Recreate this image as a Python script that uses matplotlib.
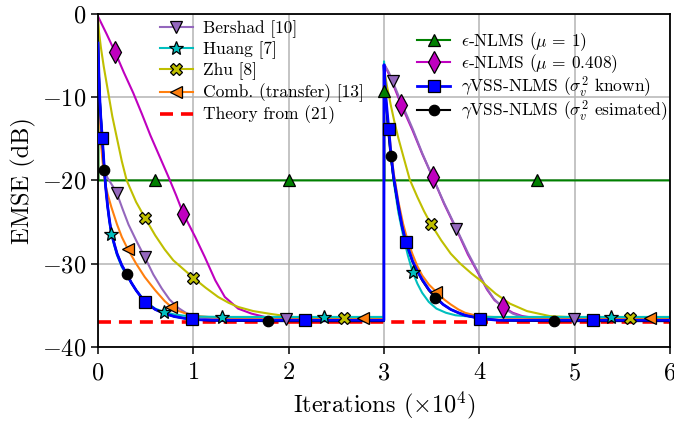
import numpy as np
import matplotlib
matplotlib.use('Agg')
import matplotlib.pyplot as plt
from matplotlib.lines import Line2D

plt.rcParams['font.family'] = 'serif'
plt.rcParams['font.serif'] = ['cmr10']
plt.rcParams['mathtext.fontset'] = 'cm'
plt.rcParams['axes.formatter.use_mathtext'] = True

# iterations in units of 1e4, EMSE in dB
x_bershad = [0, 0.02, 0.04, 0.066, 0.1, 0.15, 0.196, 0.26, 0.32, 0.4, 0.49, 0.58, 0.67, 0.75, 0.84, 0.92,
             1.0, 1.1, 1.25, 1.97, 2.999,
             3.0, 3.05, 3.09, 3.18, 3.3, 3.4, 3.51, 3.63, 3.76, 3.88, 4.0, 4.08, 4.15, 4.25, 4.35, 4.45,
             4.6, 4.99, 6.0]
y_bershad = [-3, -11, -16, -18.7, -19.7, -20.6, -21.5, -23.5, -25.3, -27.2, -29.2, -31.3, -33.0, -34.3, -35.3, -35.9,
             -36.25, -36.5, -36.65, -36.7, -36.7,
             -6.0, -7.0, -8.1, -10.6, -13.8, -16.7, -19.6, -22.7, -25.8, -28.7, -31.3, -33.0, -34.2, -35.3, -36.0, -36.4,
             -36.6, -36.7, -36.7]
mk_bershad = [6, 10, 19, 23, 29, 38]

x_huang = [0, 0.01, 0.02, 0.045, 0.07, 0.1, 0.136, 0.17, 0.2, 0.25, 0.3, 0.4, 0.5, 0.6, 0.69, 0.8, 0.9, 1.0,
           1.3, 2.37, 2.999,
           3.0, 3.02, 3.05, 3.1, 3.15, 3.2, 3.25, 3.3, 3.35, 3.4, 3.47, 3.55, 3.65, 3.75, 3.9, 4.1, 5.38, 6.0]
y_huang = [-3, -7.5, -10.5, -15, -19.2, -23.2, -26.4, -27.8, -29, -30.4, -31.4, -33.2, -34.6, -35.4, -35.8, -36.1,
           -36.25, -36.35, -36.4, -36.4, -36.4,
           -5.7, -10.5, -14.5, -20.0, -23.8, -26.6, -29.0, -31.0, -32.4, -33.5, -34.6, -35.4, -35.9, -36.2, -36.35,
           -36.4, -36.4, -36.4]
mk_huang = [6, 14, 18, 19, 28, 37]

x_zhu = [0, 0.01, 0.03, 0.06, 0.108, 0.15, 0.2, 0.25, 0.301, 0.4, 0.493, 0.6, 0.7, 0.79, 0.9, 1.0, 1.13, 1.26,
         1.37, 1.47, 1.63, 1.79, 2.03, 2.3, 2.58, 2.999,
         3.0, 3.03, 3.07, 3.11, 3.15, 3.2, 3.27, 3.35, 3.42, 3.49, 3.6, 3.7, 3.8, 3.92, 4.01, 4.17, 4.32, 4.5,
         4.74, 5.0, 5.58, 6.0]
y_zhu = [-0.5, -2.1, -4.0, -6.3, -9.5, -12.3, -15.0, -17.7, -20.0, -22.6, -24.5, -26.6, -28.3, -29.6, -30.7,
         -31.7, -32.9, -34.0, -34.7, -35.2, -35.7, -36.0, -36.4, -36.5, -36.5, -36.5,
         -6.5, -8.6, -10.9, -13.0, -14.9, -17.0, -19.9, -22.0, -23.7, -25.2, -27.2, -28.8, -30.0, -31.2, -32.0,
         -33.6, -34.8, -35.7, -36.3, -36.45, -36.5, -36.5]
mk_zhu = [10, 15, 24, 35, 46]

x_comb = [0, 0.01, 0.02, 0.035, 0.05, 0.075, 0.1, 0.14, 0.2, 0.25, 0.31, 0.4, 0.49, 0.6, 0.7, 0.77, 0.85, 0.95,
          1.05, 1.2, 1.4, 2.78, 2.999,
          3.0, 3.02, 3.05, 3.1, 3.15, 3.2, 3.25, 3.3, 3.35, 3.4, 3.47, 3.55, 3.63, 3.7, 3.78, 3.85, 3.95, 4.05,
          4.3, 5.79, 6.0]
y_comb = [-3, -8, -12, -16, -18, -20.3, -21.6, -23.2, -25.3, -26.8, -28.2, -30.0, -31.6, -33.2, -34.5, -35.2,
          -35.7, -36.1, -36.3, -36.45, -36.5, -36.5, -36.5,
          -6.3, -10.3, -14.0, -19.0, -22.5, -25.2, -27.3, -28.9, -30.3, -31.4, -32.5, -33.4, -34.3, -34.9, -35.5,
          -35.9, -36.2, -36.35, -36.5, -36.5, -36.5]
mk_comb = [10, 15, 21, 34, 42]

x_theory = [0, 6]
y_theory = [-36.95, -36.95]

x_nlms1 = [0, 0.005, 0.6, 2.0, 2.999, 3.0, 3.005, 4.6, 6.0]
y_nlms1 = [-1, -20, -20, -20, -20, -9.3, -20, -20, -20]
mk_nlms1 = [2, 3, 5, 7]

x_nlms2 = [0, 0.09, 0.18, 0.27, 0.37, 0.46, 0.55, 0.645, 0.74, 0.82, 0.895, 1.02, 1.12, 1.23, 1.33, 1.47,
           1.61, 1.75, 2.0, 2.999,
           3.0, 3.05, 3.09, 3.18, 3.3, 3.4, 3.51, 3.63, 3.76, 3.88, 4.0, 4.08, 4.16, 4.25, 4.35, 4.45, 4.6, 6.0]
y_nlms2 = [-0.3, -2.4, -4.6, -7.0, -9.5, -12.0, -14.6, -17.1, -19.6, -21.8, -24.0, -26.8, -29.2, -32.0, -34.0,
           -35.4, -36.0, -36.4, -36.6, -36.6,
           -6.0, -7.2, -8.3, -10.9, -14.0, -16.8, -19.6, -22.8, -25.9, -28.9, -31.4, -33.1, -34.4, -35.2, -35.9,
           -36.3, -36.55, -36.6]
mk_nlms2 = [2, 10, 23, 26, 33]

x_known = [0, 0.005, 0.01, 0.02, 0.03, 0.045, 0.066, 0.08, 0.1, 0.12, 0.14, 0.17, 0.2, 0.25, 0.3, 0.35, 0.4,
           0.49, 0.6, 0.7, 0.8, 0.9, 0.99, 1.2, 2.17, 2.999,
           3.0, 3.01, 3.02, 3.035, 3.05, 3.07, 3.1, 3.15, 3.19, 3.23, 3.27, 3.3, 3.35, 3.4, 3.47, 3.54, 3.62, 3.7,
           3.78, 3.85, 3.93, 4.01, 4.2, 5.19, 6.0]
y_known = [-3.5, -5.5, -7.5, -10.5, -12.6, -14.9, -18.5, -20.8, -23.0, -24.8, -26.2, -27.6, -28.8, -30.2, -31.2,
           -32.3, -33.2, -34.6, -35.5, -36.0, -36.35, -36.55, -36.7, -36.8, -36.8, -36.8,
           -6.1, -8.2, -10.0, -12.0, -13.8, -16.5, -19.5, -23.0, -25.5, -27.4, -28.7, -29.7, -30.9, -31.9, -33.1,
           -34.0, -34.9, -35.5, -35.9, -36.2, -36.4, -36.6, -36.8, -36.8, -36.8]
mk_known = [5, 17, 22, 24, 30, 35, 47, 49]

x_est = [0, 0.01, 0.02, 0.045, 0.066, 0.08, 0.1, 0.12, 0.14, 0.17, 0.2, 0.25, 0.3, 0.35, 0.4, 0.49, 0.6, 0.7,
         0.8, 0.9, 1.0, 1.2, 1.78, 2.999,
         3.0, 3.02, 3.04, 3.07, 3.1, 3.15, 3.19, 3.23, 3.3, 3.4, 3.47, 3.54, 3.62, 3.7, 3.78, 3.85, 3.93, 4.01,
         4.3, 4.78, 6.0]
y_est = [-3.5, -7.5, -10.5, -15, -18.7, -20.8, -23.0, -24.8, -26.2, -27.6, -28.8, -30.2, -31.2, -32.3, -33.2,
         -34.6, -35.5, -36.0, -36.35, -36.55, -36.7, -36.85, -36.9, -36.9,
         -6.3, -10.5, -13.5, -17.1, -19.8, -23.2, -25.6, -27.5, -29.8, -32.0, -33.2, -34.1, -34.9, -35.5, -35.9,
         -36.2, -36.4, -36.6, -36.85, -36.9, -36.9]
mk_est = [4, 12, 22, 27, 35, 43]

# (x, y, markevery, color, marker, markersize, linewidth, label)
series = [
    (x_nlms1, y_nlms1, mk_nlms1, 'g', '^', 9, 1.5, r'$\epsilon$-NLMS ($\mu$ = 1)'),
    (x_nlms2, y_nlms2, mk_nlms2, 'm', 'd', 11, 1.5, r'$\epsilon$-NLMS ($\mu$ = 0.408)'),
    (x_bershad, y_bershad, mk_bershad, 'tab:purple', 'v', 9, 1.5, 'Bershad [10]'),
    (x_zhu, y_zhu, mk_zhu, 'y', 'X', 9, 1.5, 'Zhu [8]'),
    (x_comb, y_comb, mk_comb, 'tab:orange', '<', 9, 1.5, 'Comb. (transfer) [13]'),
    (x_huang, y_huang, mk_huang, 'c', '*', 10, 1.5, 'Huang [7]'),
    (x_est, y_est, mk_est, 'k', 'o', 7.5, 1.5, r'$\gamma$VSS-NLMS ($\sigma_v^2$ esimated)'),
    (x_known, y_known, mk_known, 'b', 's', 8.5, 2.0, r'$\gamma$VSS-NLMS ($\sigma_v^2$ known)'),
]

fig = plt.figure(figsize=(6.74, 4.21), dpi=100)
ax = fig.add_axes([0.1454, 0.176, 0.8487, 0.7909])

ax.plot(x_theory, y_theory, color='r', lw=2.6, dashes=(3.6, 2.2), zorder=1.5)

handles = {}
for k, s in enumerate(series):
    x, y, mk, c, m, ms, lw, lab = s
    ax.plot(x, y, color=c, lw=lw, zorder=2 + 0.1 * k)
    ax.plot(x, y, ls='none', marker=m, markevery=mk, ms=ms, mfc=c, mec='k', mew=0.9,
            zorder=4 + 0.1 * k)
    handles[lab] = Line2D([], [], color=c, lw=lw, marker=m, ms=ms, mfc=c, mec='k', mew=0.9)
handles['Theory from (21)'] = Line2D([], [], color='r', lw=2.6, dashes=(3.6, 2.2))

ax.set_xlim(0, 6)
ax.set_ylim(-40, 0)
ax.set_xticks(np.arange(0, 7, 1))
ax.set_yticks(np.arange(-40, 1, 10))
ax.grid(True, color='#b4b4b4', lw=1.1)
ax.set_axisbelow(True)
ax.tick_params(labelsize=17.5, direction='out', length=5, width=1.1)
ax.tick_params(axis='x', pad=6)
for sp in ax.spines.values():
    sp.set_linewidth(1.3)
ax.set_xlabel(r'Iterations ($\times 10^4$)', fontsize=17.5, labelpad=4)
ax.set_ylabel('EMSE (dB)', fontsize=17.5)

left = ['Bershad [10]', 'Huang [7]', 'Zhu [8]', 'Comb. (transfer) [13]', 'Theory from (21)']
right = [r'$\epsilon$-NLMS ($\mu$ = 1)', r'$\epsilon$-NLMS ($\mu$ = 0.408)',
         r'$\gamma$VSS-NLMS ($\sigma_v^2$ known)', r'$\gamma$VSS-NLMS ($\sigma_v^2$ esimated)']
leg1 = ax.legend([handles[l] for l in left], left, loc='upper left', bbox_to_anchor=(0.105, 0.985),
                 frameon=False, fontsize=12.5, borderpad=0.1, borderaxespad=0, labelspacing=0.19,
                 handlelength=1.9, handletextpad=0.6)
ax.add_artist(leg1)
ax.legend([handles[l] for l in right], right, loc='upper left', bbox_to_anchor=(0.555, 0.955),
          frameon=False, fontsize=12.5, borderpad=0.1, borderaxespad=0, labelspacing=-0.05,
          handlelength=1.9, handletextpad=0.6)

fig.savefig('out.png', dpi=100)
